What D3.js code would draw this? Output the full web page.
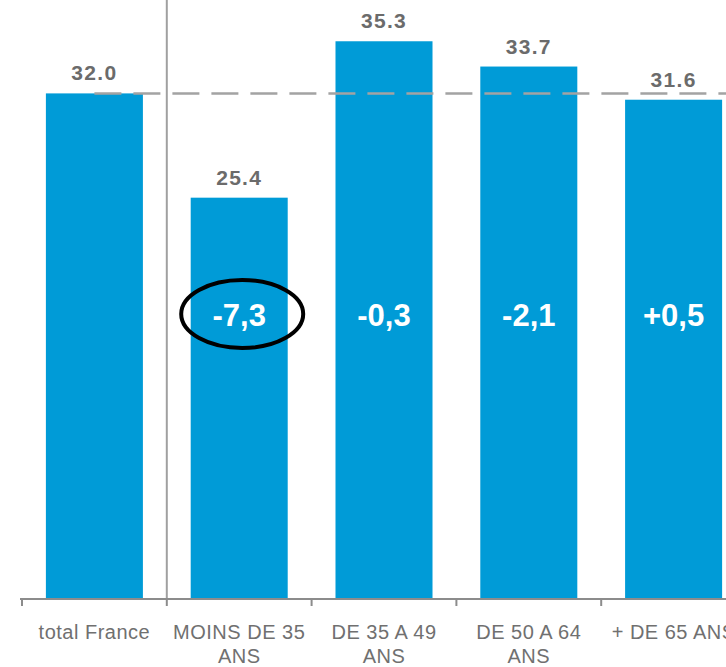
<!DOCTYPE html>
<html>
<head>
<meta charset="utf-8">
<script src="https://cdn.jsdelivr.net/npm/d3@7/dist/d3.min.js"></script>
<style>
  html, body { margin: 0; padding: 0; background: #fff; }
  svg { display: block; }
</style>
</head>
<body>
<svg id="chart" width="726" height="667"></svg>
<script>
// Categories (label lines) and values
const categories = ["total France", "MOINS DE 35 ANS", "DE 35 A 49 ANS", "DE 50 A 64 ANS", "+ DE 65 ANS"];
const labelLines = [["total France"], ["MOINS DE 35", "ANS"], ["DE 35 A 49", "ANS"], ["DE 50 A 64", "ANS"], ["+ DE 65 ANS"]];
const values = [32.0, 25.4, 35.3, 33.7, 31.6];
const changes = [null, "-7,3", "-0,3", "-2,1", "+0,5"];
const highlighted = ["MOINS DE 35 ANS"];

const svg = d3.select("#chart");
const baseY = 599;

const x = d3.scaleBand()
  .domain(categories)
  .range([22, 746])
  .paddingInner(0.33)
  .paddingOuter(0.165);

const y = d3.scaleLinear()
  .domain([0, 40])
  .range([baseY, baseY - 40 * 15.8]);

const step = x.step();
const boundary = c => x(c) - step * x.paddingInner() / 2;
const center = c => x(c) + x.bandwidth() / 2;

// Bars
svg.append("g").selectAll("rect")
  .data(categories)
  .join("rect")
  .attr("x", d => x(d))
  .attr("y", (d, i) => y(values[i]))
  .attr("width", x.bandwidth())
  .attr("height", (d, i) => baseY - y(values[i]))
  .attr("fill", "#009bd7");

// Reference line at the national total
svg.append("line")
  .attr("x1", center(categories[0]))
  .attr("x2", 726)
  .attr("y1", y(values[0]))
  .attr("y2", y(values[0]))
  .attr("stroke", "#a3a3a3")
  .attr("stroke-width", 2.5)
  .attr("stroke-dasharray", "27,12");

// Separator between the total and the age groups
svg.append("line")
  .attr("x1", boundary(categories[1]))
  .attr("x2", boundary(categories[1]))
  .attr("y1", 0)
  .attr("y2", baseY)
  .attr("stroke", "#a0a0a0")
  .attr("stroke-width", 2);

// Value labels above bars
svg.append("g").selectAll("text")
  .data(categories)
  .join("text")
  .attr("x", d => center(d))
  .attr("y", (d, i) => y(values[i]) - 13)
  .attr("text-anchor", "middle")
  .attr("font-family", "Liberation Sans, Arial, sans-serif")
  .attr("font-weight", "bold")
  .attr("font-size", 21)
  .attr("letter-spacing", 1.3)
  .attr("fill", "#6b6b6b")
  .text((d, i) => values[i].toFixed(1));

// Change labels inside bars
svg.append("g").selectAll("text")
  .data(categories.filter((d, i) => changes[i] !== null))
  .join("text")
  .attr("x", d => center(d))
  .attr("y", 326)
  .attr("text-anchor", "middle")
  .attr("font-family", "Liberation Sans, Arial, sans-serif")
  .attr("font-weight", "bold")
  .attr("font-size", 31)
  .attr("fill", "#ffffff")
  .text(d => changes[categories.indexOf(d)]);

// Circle around the highlighted change
svg.append("g").selectAll("ellipse")
  .data(highlighted)
  .join("ellipse")
  .attr("cx", d => center(d) + 3)
  .attr("cy", 314)
  .attr("rx", 61)
  .attr("ry", 34)
  .attr("fill", "none")
  .attr("stroke", "#000")
  .attr("stroke-width", 4);

// Category axis
const axis = svg.append("g");
axis.append("line")
  .attr("x1", boundary(categories[0]) - 2)
  .attr("x2", 726)
  .attr("y1", baseY)
  .attr("y2", baseY)
  .attr("stroke", "#8c8c8c")
  .attr("stroke-width", 2);
axis.selectAll("line.tick")
  .data(categories)
  .join("line")
  .attr("class", "tick")
  .attr("x1", d => boundary(d))
  .attr("x2", d => boundary(d))
  .attr("y1", baseY)
  .attr("y2", baseY + 7)
  .attr("stroke", "#8c8c8c")
  .attr("stroke-width", 2);

const lbl = axis.selectAll("text.cat")
  .data(categories)
  .join("text")
  .attr("class", "cat")
  .attr("x", d => center(d))
  .attr("y", 639)
  .attr("text-anchor", "middle")
  .attr("font-family", "Liberation Sans, Arial, sans-serif")
  .attr("font-size", 20)
  .attr("letter-spacing", 0.5)
  .attr("fill", "#707070");
lbl.selectAll("tspan")
  .data((d, i) => labelLines[i])
  .join("tspan")
  .attr("x", function () { return d3.select(this.parentNode).attr("x"); })
  .attr("dy", (d, i) => i === 0 ? 0 : 24)
  .text(d => d);
</script>
</body>
</html>
